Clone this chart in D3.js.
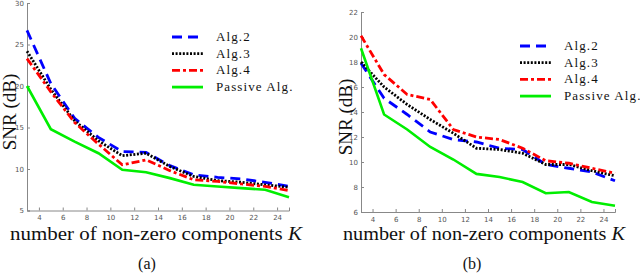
<!DOCTYPE html>
<html>
<head>
<meta charset="utf-8">
<script src="https://cdn.jsdelivr.net/npm/d3@7"></script>
<style>
  body { margin: 0; background: #fff; }
  .tick text { font-family: "DejaVu Sans", sans-serif; font-size: 7px; fill: #555; }
  .lbl { font-family: "Liberation Serif", serif; fill: #111; }
</style>
</head>
<body>
<svg width="640" height="274"></svg>
<script>
var K = [3, 5, 7, 9, 11, 13, 15, 17, 19, 21, 23, 25];
var xTicks = [4, 6, 8, 10, 12, 14, 16, 18, 20, 22, 24];
var names = ["Alg.2", "Alg.3", "Alg.4", "Passive Alg."];

// panel (a)
var a_alg2 = [26.7, 20.3, 16.1, 13.8, 12.1, 12.0, 10.4, 9.3, 9.0, 8.8, 8.4, 7.9];
var a_alg3 = [24.2, 19.6, 15.8, 13.4, 11.6, 11.9, 10.3, 9.1, 8.6, 8.4, 8.1, 7.8];
var a_alg4 = [23.3, 19.3, 15.6, 13.0, 10.5, 11.1, 9.8, 8.7, 8.5, 8.2, 7.9, 7.4];
var a_pass = [20.0, 14.8, 13.3, 11.9, 9.9, 9.6, 8.9, 8.1, 7.9, 7.7, 7.5, 6.6];
var a_yTicks = [5, 10, 15, 20, 25, 30];

// panel (b)
var b_alg2 = [17.9, 15.1, 13.8, 12.4, 11.8, 11.6, 11.1, 11.0, 9.8, 9.5, 9.2, 8.5];
var b_alg3 = [18.0, 16.0, 14.6, 13.4, 12.3, 11.1, 11.0, 10.7, 9.8, 9.8, 9.3, 8.9];
var b_alg4 = [20.1, 17.0, 15.4, 15.0, 12.6, 12.0, 11.8, 11.1, 10.1, 9.9, 9.5, 9.1];
var b_pass = [19.1, 13.8, 12.6, 11.2, 10.2, 9.05, 8.8, 8.4, 7.5, 7.6, 6.8, 6.5];
var b_yTicks = [6, 8, 10, 12, 14, 16, 18, 20, 22];

var styles = [
  { color: "#0000ff", dash: "10,6" },
  { color: "#000000", dash: "2,1.6" },
  { color: "#ff0000", dash: "8,3,3,3" },
  { color: "#00ee00", dash: null }
];

var svg = d3.select("svg");

function panel(opt) {
  var x = d3.scaleLinear().domain([3, 25]).range([opt.x0, opt.x1]);
  var y = d3.scaleLinear().domain(opt.ydom).range([opt.y0, opt.y1]);
  var g = svg.append("g");

  g.append("g")
      .attr("transform", "translate(0," + opt.y0 + ")")
      .call(d3.axisBottom(x).tickValues(xTicks).tickSize(-3).tickPadding(5))
      .call(function(s) {
        s.select(".domain").attr("stroke", "#888");
        s.selectAll(".tick line").attr("stroke", "#888");
      });
  g.append("g")
      .attr("transform", "translate(" + opt.x0 + ",0)")
      .call(d3.axisLeft(y).tickValues(opt.yTicks).tickSize(-3).tickPadding(3))
      .call(function(s) {
        s.select(".domain").attr("stroke", "#888");
        s.selectAll(".tick line").attr("stroke", "#888");
      });

  var line = d3.line()
      .x(function(d, i) { return x(K[i]); })
      .y(function(d) { return y(d); });

  opt.series.forEach(function(s, i) {
    g.append("path")
        .datum(s)
        .attr("fill", "none")
        .attr("stroke", styles[i].color)
        .attr("stroke-width", i == 3 ? 2.6 : 2.8)
        .attr("stroke-dasharray", styles[i].dash)
        .attr("d", line);
  });

  // legend
  var lg = g.append("g").attr("transform", "translate(" + opt.lx + "," + opt.ly + ")");
  names.forEach(function(n, i) {
    lg.append("line")
        .attr("x1", 0).attr("x2", 31)
        .attr("y1", i * 16.7).attr("y2", i * 16.7)
        .attr("stroke", styles[i].color)
        .attr("stroke-width", 2.8)
        .attr("stroke-dasharray", styles[i].dash);
    lg.append("text")
        .attr("class", "lbl")
        .attr("x", 44).attr("y", i * 16.7 + 4)
        .attr("font-size", 13)
        .attr("letter-spacing", 1.1)
        .text(n);
  });

  g.append("text")
      .attr("class", "lbl")
      .attr("x", opt.xlx).attr("y", 240)
      .attr("font-size", 19)
      .attr("textLength", opt.xlw)
      .attr("lengthAdjust", "spacingAndGlyphs")
      .html("number of non-zero components <tspan font-style='italic'>K</tspan>");

  g.append("text")
      .attr("class", "lbl")
      .attr("transform", "translate(" + opt.ylx + "," + opt.yly + ") rotate(-90)")
      .attr("text-anchor", "middle")
      .attr("font-size", 19)
      .text("SNR (dB)");

  g.append("text")
      .attr("class", "lbl")
      .attr("x", opt.capx).attr("y", 269)
      .attr("text-anchor", "middle")
      .attr("font-size", 16)
      .text(opt.cap);
}

panel({ x0: 27, x1: 289, y0: 210.5, y1: 3, ydom: [5, 30], yTicks: a_yTicks,
        series: [a_alg2, a_alg3, a_alg4, a_pass],
        lx: 172, ly: 37, xlx: 10, xlw: 292, ylx: 16, yly: 112, capx: 147, cap: "(a)" });

panel({ x0: 361, x1: 615, y0: 212, y1: 12, ydom: [6, 22], yTicks: b_yTicks,
        series: [b_alg2, b_alg3, b_alg4, b_pass],
        lx: 520, ly: 46, xlx: 343, xlw: 282, ylx: 352, yly: 117, capx: 472, cap: "(b)" });
</script>
</body>
</html>
